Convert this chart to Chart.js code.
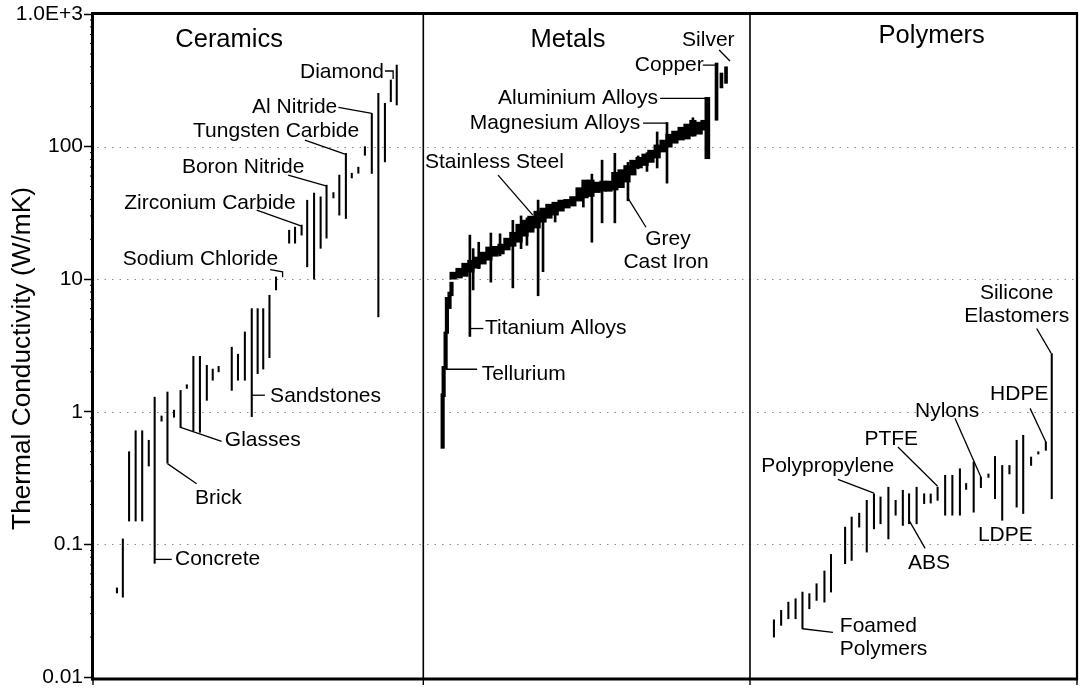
<!DOCTYPE html>
<html>
<head>
<meta charset="utf-8">
<script src="https://cdn.jsdelivr.net/npm/chart.js@4.4.0/dist/chart.umd.min.js"></script>
<style>html,body{margin:0;padding:0;background:#fff;}canvas{display:block;}</style>
</head>
<body>
<canvas id="c" width="1085" height="689"></canvas>
<script>
// ---------- DATA ----------
// ranking position along the x axis (Ceramics 0-100, Metals 100-200, Polymers 200-300)
const ceramicsIndex = [7.3,9.1,11.0,13.0,15.0,17.0,18.8,20.9,22.7,24.7,26.7,28.6,30.6,32.6,34.7,36.5,38.3,42.3,44.2,46.3,48.4,50.2,51.9,53.8,55.8,59.8,61.6,63.6,65.3,67.4,69.4,71.2,73.3,75.1,77.1,78.9,80.9,82.9,85.0,87.0,89.0,90.8,92.6];
const ceramicsLow  = [0.043,0.04,0.15,0.15,0.15,0.39,0.072,0.85,0.41,0.91,0.76,1.5,0.72,0.70,1.22,1.73,2.0,1.45,1.73,1.73,0.92,1.94,2.1,2.56,8.3,18.7,18.7,21.5,12.4,10,17.1,20.4,41,30.4,28.7,58,63,86,62.7,5.2,76.7,218,206];
const ceramicsHigh = [0.047,0.11,0.5,0.72,0.72,0.61,1.29,0.93,1.41,1.03,1.45,1.6,2.62,2.62,2.24,2.1,2.2,3.07,2.72,4.0,6.0,6.0,6.0,7.57,10.4,23.4,24.7,25.6,39.4,44.6,41.8,51.2,45,61,89,63,70,100,178,252,212,318,412];

const metalsBandIndex = [109.8,111.6,113.4,115.2,117.1,118.9,120.7,122.6,124.4,126.2,128.0,129.9,131.7,133.5,135.4,137.2,139.0,140.9,142.7,144.5,146.3,148.2,150.0,151.8,153.7,155.5,157.3,159.1,161.0,162.8,164.6,166.5,168.3,170.1,172.0,173.8,175.6,177.4,179.3,181.1,182.9,184.8,186.3];
const metalsBandLow  = [10,10.2,10.5,11.3,12.1,13,13.9,14.9,15.5,16.6,17.7,19,21.1,22.6,24.3,26.9,28.8,30.4,32.6,34.4,35.6,38.8,41,42,45,46,46,47,49,54,61,69,72,76,82,91,99,106,112,114,120,124,133];
const metalsBandHigh = [11.3,12.1,13.2,13.9,14.7,16,17.5,17.7,18.4,20.4,22.6,26,27.9,29.9,32.6,34.4,36.8,38.1,39.5,40,42,49,56,56,54,55,55,64,67,72,79,83,88,94,103,112,124,131,140,148,158,153,158];

const telluriumIndex = [106.6,106.9,107.5,107.9,108.7,109.3];
const telluriumLow   = [0.53,1.3,2.1,3.9,6.0,7.5];
const telluriumHigh  = [1.37,2.2,4.0,7.3,8.0,9.5];

const metalsSpikeIndex = [114.9,115.9,117.6,121.3,124.1,128.0,130.5,132.3,135.7,137.2,140.9,149.5,152.1,155.2,159.1,163.1,166.2,168.9,172.0,175.0,182.9];
const metalsSpikeLow   = [3.7,8.3,12,9.5,15,8.6,17,18,7.5,11.4,27,35,19,26.6,26.6,39,68,65,69,53,120];
const metalsSpikeHigh  = [21.5,17,19,22.3,22,27.8,30,29,39.5,33,36,50,62,79,89,76,85,90,129,152,165];

const aluminiumIndex = [187.3];
const aluminiumLow   = [81];
const aluminiumHigh  = [235];

const nobleIndex = [190.1,191.6,193.0];
const nobleLow   = [158,277,300];
const nobleHigh  = [427,359,400];

const polymersIndex = [207.6,209.8,212.0,214.2,216.3,218.4,220.6,223.0,225.0,229.3,231.3,233.6,235.9,238.1,240.1,242.5,244.7,246.9,248.8,251.1,253.4,255.4,257.5,259.8,262.0,264.3,266.2,268.5,270.7,273.0,275.0,277.2,279.4,281.6,283.6,286.0,288.2,290.5,292.3];
const polymersLow  = [0.020,0.0245,0.0275,0.0275,0.0231,0.0327,0.0378,0.0367,0.0437,0.0715,0.0757,0.135,0.0875,0.131,0.143,0.110,0.166,0.139,0.143,0.143,0.203,0.205,0.215,0.166,0.166,0.166,0.26,0.175,0.268,0.32,0.221,0.152,0.34,0.191,0.171,0.394,0.48,0.512,0.221];
const polymersHigh = [0.027,0.0318,0.0367,0.0389,0.0437,0.0425,0.0505,0.063,0.084,0.135,0.161,0.172,0.215,0.241,0.228,0.270,0.215,0.256,0.241,0.270,0.241,0.24,0.270,0.332,0.332,0.372,0.288,0.418,0.322,0.34,0.461,0.394,0.394,0.61,0.665,0.456,0.5,0.592,2.75];

const tickValues = [0.01,0.1,1,10,100,1000];
const tickLabels = ['0.01','0.1','1','10','100','1.0E+3'];
const panelBounds = [0,100.7,200.3,300];
const panelTitles = ['Ceramics','Metals','Polymers'];
const yTitle = 'Thermal Conductivity (W/mK)';

// annotation placement (x in ranking units, y as log10 of conductivity)
const titlePos = [[41.5,2.751],[144.8,2.753],[255.7,2.783]];
const labels = [
  ['Diamond',63.1,2.515,'left'],['Al Nitride',48.5,2.251,'left'],['Tungsten Carbide',30.5,2.074,'left'],
  ['Boron Nitride',27.1,1.798,'left'],['Zirconium Carbide',9.5,1.533,'left'],['Sodium Chloride',9.1,1.106,'left'],
  ['Sandstones',54.0,0.074,'left'],['Glasses',40.2,-0.260,'left'],['Brick',31.1,-0.693,'left'],['Concrete',25.0,-1.158,'left'],
  ['Silver',179.6,2.757,'left'],['Copper',165.2,2.570,'left'],['Aluminium Alloys',123.5,2.321,'left'],
  ['Magnesium Alloys',114.9,2.132,'left'],['Stainless Steel',101.2,1.835,'left'],['Grey',175.3,1.257,'center'],
  ['Cast Iron',174.7,1.081,'center'],['Titanium Alloys',119.5,0.590,'left'],['Tellurium',118.5,0.238,'left'],
  ['Silicone',281.6,0.854,'center'],['Elastomers',281.6,0.678,'center'],['HDPE',273.5,0.087,'left'],
  ['Nylons',250.6,-0.039,'left'],['PTFE',235.2,-0.253,'left'],['Polypropylene',203.7,-0.454,'left'],
  ['ABS',248.5,-1.183,'left'],['LDPE',269.8,-0.975,'left'],['Foamed',227.7,-1.657,'left'],['Polymers',227.7,-1.833,'left']
];
const leaders = [
  [[89.0,2.570],[91.5,2.570],[91.5,2.509]],
  [[74.8,2.296],[85.0,2.251]],
  [[64.6,2.049],[76.8,1.943]],
  [[59.5,1.785],[71.3,1.702]],
  [[49.9,1.521],[63.6,1.400]],
  [[54.0,1.073],[57.8,1.055],[57.8,1.015]],
  [[48.4,0.125],[52.4,0.125]],
  [[26.7,-0.117],[39.2,-0.223]],
  [[22.7,-0.391],[31.6,-0.542]],
  [[18.8,-1.113],[24.0,-1.113]],
  [[190.9,2.728],[194.2,2.645]],
  [[185.9,2.615],[190.1,2.615],[190.1,2.555]],
  [[172.9,2.364],[187.3,2.364]],
  [[167.7,2.177],[175.0,2.177]],
  [[123.5,1.785],[134.1,1.483]],
  [[163.1,1.611],[168.6,1.392]],
  [[115.0,0.628],[119.0,0.628]],
  [[107.6,0.321],[117.1,0.321]],
  [[287.7,0.628],[292.1,0.442]],
  [[285.7,0.026],[290.5,-0.228]],
  [[262.8,-0.049],[270.7,-0.492]],
  [[245.4,-0.266],[257.5,-0.562]],
  [[227.1,-0.509],[238.1,-0.613]],
  [[248.8,-0.819],[253.7,-1.030]],
  [[216.3,-1.636],[225.6,-1.664]]
];

// ---------- CHART ----------
const FONT = "'Liberation Sans', Arial, Helvetica, sans-serif";
const toPts = (xs, lo, hi) => xs.map((x, i) => ({x: x, y: [lo[i], hi[i]]}));
const barDs = (xs, lo, hi, w) => ({
  type: 'bar', data: toPts(xs, lo, hi), backgroundColor: '#000', borderWidth: 0,
  barThickness: w, grouped: false
});

const decor = {
  id: 'decor',
  beforeDatasetsDraw(chart) {
    const ctx = chart.ctx, a = chart.chartArea, ys = chart.scales.y;
    ctx.save();
    ctx.strokeStyle = '#8a8a8a';
    ctx.lineWidth = 1;
    ctx.setLineDash([1.5, 6]);
    [0.1, 1, 10, 100].forEach(v => {
      const y = Math.round(ys.getPixelForValue(v)) + 0.5;
      ctx.beginPath(); ctx.moveTo(a.left + 4, y); ctx.lineTo(a.right - 2, y); ctx.stroke();
    });
    ctx.restore();
  },
  afterDraw(chart) {
    const ctx = chart.ctx, a = chart.chartArea, xs = chart.scales.x, ys = chart.scales.y;
    const px = u => xs.getPixelForValue(u);
    const py = l => ys.getPixelForValue(Math.pow(10, l));
    ctx.save();
    ctx.strokeStyle = '#000';
    ctx.fillStyle = '#000';
    // minor ticks
    ctx.lineWidth = 1;
    for (let k = -2; k < 3; k++) {
      for (let m = 2; m < 10; m++) {
        const y = ys.getPixelForValue(m * Math.pow(10, k));
        ctx.beginPath(); ctx.moveTo(a.left - 3, y); ctx.lineTo(a.left, y); ctx.stroke();
      }
    }
    // frame
    ctx.lineWidth = 3;
    ctx.beginPath(); ctx.moveTo(a.left - 1.5, a.top - 0.5); ctx.lineTo(a.right + 1, a.top - 0.5); ctx.stroke();
    ctx.beginPath(); ctx.moveTo(a.left - 1.5, a.bottom + 2); ctx.lineTo(a.right + 1, a.bottom + 2); ctx.stroke();
    ctx.beginPath(); ctx.moveTo(a.left - 0.5, a.top - 2); ctx.lineTo(a.left - 0.5, a.bottom + 3.5); ctx.stroke();
    ctx.lineWidth = 2.2;
    ctx.beginPath(); ctx.moveTo(a.right, a.top - 2); ctx.lineTo(a.right, a.bottom + 3); ctx.stroke();
    ctx.lineWidth = 1.6;
    panelBounds.slice(1, 3).forEach(u => {
      const x = px(u);
      ctx.beginPath(); ctx.moveTo(x, a.top); ctx.lineTo(x, a.bottom + 2); ctx.stroke();
    });
    ctx.lineWidth = 1.4;
    panelBounds.forEach(u => {
      const x = px(u);
      ctx.beginPath(); ctx.moveTo(x, a.bottom + 2); ctx.lineTo(x, a.bottom + 8); ctx.stroke();
    });
    // leaders
    ctx.lineWidth = 1.3;
    leaders.forEach(pts => {
      ctx.beginPath();
      pts.forEach((p, i) => { const X = px(p[0]), Y = py(p[1]); if (i) ctx.lineTo(X, Y); else ctx.moveTo(X, Y); });
      ctx.stroke();
    });
    // panel titles
    ctx.textBaseline = 'alphabetic';
    ctx.textAlign = 'center';
    ctx.font = '25.5px ' + FONT;
    panelTitles.forEach((t, i) => ctx.fillText(t, px(titlePos[i][0]), py(titlePos[i][1])));
    // labels
    ctx.font = '21px ' + FONT;
    labels.forEach(l => { ctx.textAlign = l[3]; ctx.fillText(l[0], px(l[1]), py(l[2])); });
    // y title
    ctx.save();
    ctx.translate(30, (a.top + a.bottom) / 2 + 13);
    ctx.rotate(-Math.PI / 2);
    ctx.scale(1.05, 1);
    ctx.textAlign = 'center';
    ctx.font = '25px ' + FONT;
    ctx.fillText(yTitle, 0, 0);
    ctx.restore();
    ctx.restore();
  }
};

new Chart(document.getElementById('c'), {
  type: 'bar',
  data: {
    datasets: [
      barDs(ceramicsIndex, ceramicsLow, ceramicsHigh, 1.4),
      barDs(metalsBandIndex, metalsBandLow, metalsBandHigh, 6.6),
      barDs(telluriumIndex, telluriumLow, telluriumHigh, 3.5),
      barDs(metalsSpikeIndex, metalsSpikeLow, metalsSpikeHigh, 2),
      barDs(aluminiumIndex, aluminiumLow, aluminiumHigh, 5),
      barDs(nobleIndex, nobleLow, nobleHigh, 3),
      barDs(polymersIndex, polymersLow, polymersHigh, 1.4)
    ]
  },
  options: {
    responsive: false,
    animation: false,
    devicePixelRatio: 1,
    layout: {padding: {left: 0, right: 8, top: 14, bottom: 12}},
    plugins: {legend: {display: false}, tooltip: {enabled: false}, title: {display: false}},
    scales: {
      x: {type: 'linear', min: 0, max: 300, display: false, offset: false, grid: {display: false}},
      y: {
        type: 'logarithmic', min: 0.01, max: 1000, position: 'left',
        afterBuildTicks: s => { s.ticks = tickValues.map(v => ({value: v, major: true})); },
        afterFit: s => { s.width = 93; s.paddingTop = 0; s.paddingBottom = 0; },
        ticks: {
          autoSkip: false, maxRotation: 0, padding: 1, color: '#000',
          font: {family: FONT, size: 21},
          callback: (v, i) => tickLabels[i]
        },
        grid: {drawOnChartArea: false, drawTicks: true, tickLength: 9, tickColor: '#000', tickWidth: 1.5},
        border: {display: false}
      }
    }
  },
  plugins: [decor]
});
</script>
</body>
</html>
